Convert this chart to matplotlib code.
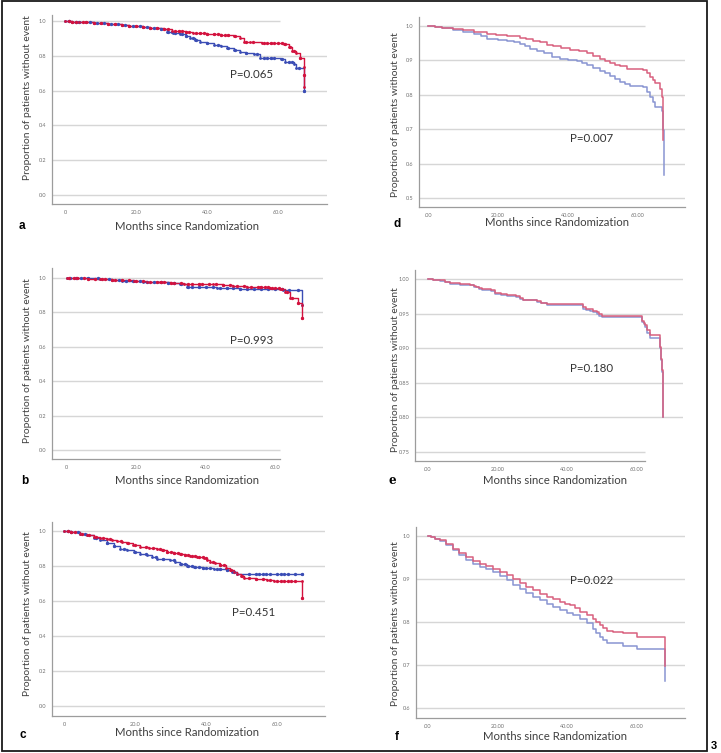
import matplotlib.pyplot as plt
import numpy as np

W, H = 721, 753

# ---- panel a ----
a_red_t = [0, 2, 4, 6, 8, 10, 12, 14, 16, 18, 20, 22, 24, 26, 28, 30, 32, 34, 36, 38, 40, 42, 44, 46,
           47.5, 49.4, 50.3, 52, 55.5, 58, 61.6, 63.0, 64.0, 65.0, 66.3, 67.2, 67.3, 67.4]
a_red_s = [1.0, 0.997, 0.994, 0.992, 0.99, 0.988, 0.985, 0.982, 0.978, 0.974, 0.97, 0.966, 0.963, 0.959,
           0.953, 0.945, 0.941, 0.937, 0.933, 0.931, 0.928, 0.926, 0.922, 0.918,
           0.914, 0.90, 0.88, 0.878, 0.874, 0.872, 0.87, 0.85, 0.83, 0.816, 0.79, 0.736, 0.69, 0.62]
a_blue_t = [0, 2, 4, 6, 8, 10, 12, 14, 16, 18, 20, 22, 24, 26, 27, 28.7, 30.5, 32.5, 34, 35.3, 36.7, 38.1,
            40, 41.9, 43.8, 45.6, 47.5, 49.4, 51, 53.2, 55, 58, 60.7, 62.1, 64.4, 65, 67.3]
a_blue_s = [1.0, 0.997, 0.994, 0.992, 0.99, 0.988, 0.985, 0.982, 0.978, 0.974, 0.97, 0.966, 0.963, 0.959,
            0.952, 0.937, 0.932, 0.927, 0.915, 0.904, 0.892, 0.88, 0.872, 0.864, 0.856, 0.847, 0.835,
            0.822, 0.818, 0.813, 0.79, 0.787, 0.784, 0.765, 0.755, 0.732, 0.60]
a_red_cens = [1, 2, 3, 5, 6, 8, 10, 12, 14, 16, 18, 20, 22, 24, 26, 28, 29, 31, 32, 33, 34, 35, 37, 38, 39, 40,
              42, 43, 44, 45, 46, 48, 51, 53, 56, 57, 58, 59, 60, 61, 62, 63.5, 64.5, 66.3, 67.3]
a_blue_cens = [1, 3, 4, 7, 9, 11, 13, 15, 17, 19, 21, 23, 25, 27, 29, 30, 31, 33, 34, 36, 37, 40, 43, 46, 48,
               51, 54, 56, 57, 58, 59, 61, 63, 64, 66, 67.3]

# ---- panel b ----
b_red_t = [0, 3, 6, 9.6, 13, 16, 19.2, 23, 26.9, 30, 33.6, 38, 42.2, 45, 48, 52, 55.7, 58.5, 61.4,
           62.9, 64.3, 66.7, 67.7, 67.7]
b_red_s = [1.0, 0.998, 0.996, 0.994, 0.99, 0.987, 0.984, 0.979, 0.975, 0.971, 0.967, 0.966, 0.965, 0.96,
           0.955, 0.95, 0.946, 0.941, 0.936, 0.917, 0.883, 0.854, 0.845, 0.767]
b_blue_t = [0, 3, 6, 9.6, 13, 16, 19.2, 22, 25.9, 29, 32.6, 34.5, 38, 43.2, 46, 49.9, 62.4, 67.7]
b_blue_s = [1.0, 0.999, 0.998, 0.996, 0.99, 0.985, 0.98, 0.978, 0.977, 0.971, 0.965, 0.948, 0.946, 0.944,
            0.941, 0.938, 0.932, 0.845]
b_red_cens = [0.5, 2, 3, 5, 6, 8, 10, 11, 13, 14, 16, 18, 20, 22, 24, 26, 27, 28, 30, 31, 33, 35, 36, 38, 39,
              41, 43, 45, 47, 49, 51, 53, 55, 56, 57, 58, 59, 60, 61, 62, 63.5, 65, 66.7, 67.7]
b_blue_cens = [1, 2.5, 4, 6, 9, 12, 15, 17, 19, 21, 23, 25, 27, 29, 31, 33, 35, 36, 38, 40, 42, 44, 46, 48,
               50, 52, 54, 56, 58, 60, 62, 64, 66.5]

# ---- panel c ----
c_red_t = [0, 2, 4.5, 6.5, 8.3, 10, 12, 13.5, 14.9, 16.3, 17.7, 19.5, 21.4, 24, 26.2, 27.5, 29, 31, 32.7,
           34, 35.6, 37.5, 39.3, 40.2, 41.2, 42.5, 44, 45.5, 46.8, 47.8, 48.7, 49.7, 50.6, 54, 57.2, 59.1,
           67.1, 67.1]
c_red_s = [1.0, 0.993, 0.985, 0.975, 0.966, 0.961, 0.956, 0.95, 0.943, 0.937, 0.931, 0.92, 0.909, 0.904,
           0.899, 0.89, 0.88, 0.873, 0.867, 0.861, 0.855, 0.851, 0.848, 0.836, 0.823, 0.814, 0.804, 0.79,
           0.775, 0.765, 0.756, 0.745, 0.733, 0.728, 0.722, 0.712, 0.712, 0.619]
c_blue_t = [0, 2, 4.5, 6.5, 8.3, 10, 12, 14, 15.8, 17.7, 19.6, 21.5, 23.3, 24.8, 26.2, 28, 29.9, 31.3,
            32.7, 34.6, 36.5, 39, 42.1, 44, 45.9, 47.3, 48.7, 67.1]
c_blue_s = [1.0, 0.993, 0.985, 0.974, 0.962, 0.947, 0.931, 0.915, 0.899, 0.89, 0.88, 0.87, 0.861, 0.851,
            0.842, 0.837, 0.832, 0.821, 0.81, 0.802, 0.794, 0.79, 0.785, 0.78, 0.775, 0.766, 0.756, 0.756]
c_red_cens = [1, 2, 3, 5, 7, 9, 11, 13, 16, 18, 20, 23, 25, 27, 28, 29, 30, 31, 32, 33, 34, 35, 36, 37, 38,
              39, 40, 42, 44, 45, 47, 50, 52, 54, 56, 58, 60, 61, 62, 63, 64, 65, 67.1]
c_blue_cens = [1, 2, 4, 6, 9, 12, 14, 17, 20, 23, 26, 28, 31, 33, 34, 35, 36, 37, 38, 39, 40, 41, 43, 44,
               46, 48, 52, 54, 55, 56, 57, 58, 60, 61, 62, 63, 65, 67.1]

# ---- panel d ----
d_red_t = [0, 2, 4, 7.2, 10, 13, 16.8, 19.5, 22.5, 26.3, 28, 30.1, 32, 34, 35.8, 38, 40.6, 43, 45.3, 47,
           49.1, 50.5, 52, 53.5, 54.9, 56.8, 61.5, 62.5, 63.4, 64.2, 64.9, 66.3, 66.8, 67.0, 67.2]
d_red_s = [1.0, 0.997, 0.994, 0.99, 0.987, 0.983, 0.978, 0.974, 0.97, 0.966, 0.962, 0.957, 0.952, 0.946,
           0.941, 0.935, 0.93, 0.926, 0.92, 0.914, 0.905, 0.899, 0.893, 0.888, 0.883, 0.874, 0.872, 0.862,
           0.852, 0.842, 0.833, 0.818, 0.794, 0.736, 0.669]
d_blue_t = [0, 2, 4, 7.2, 10, 13, 15, 16.8, 20, 22.5, 24.5, 26.3, 27.7, 29.1, 31, 33, 35.5, 37.7, 40, 42.5,
            44, 45.3, 47.2, 49.1, 50.5, 52, 53.5, 54.9, 56.3, 57.7, 61.5, 62.5, 63.4, 64.2, 64.9, 66.8,
            67.2, 67.4]
d_blue_s = [1.0, 0.996, 0.993, 0.987, 0.983, 0.978, 0.97, 0.963, 0.96, 0.957, 0.953, 0.949, 0.941, 0.934,
            0.927, 0.92, 0.911, 0.903, 0.9, 0.899, 0.892, 0.886, 0.878, 0.87, 0.862, 0.854, 0.846, 0.838,
            0.831, 0.826, 0.823, 0.808, 0.794, 0.779, 0.765, 0.754, 0.698, 0.566]

# ---- panel e ----
e_red_t = [0, 1.5, 3.4, 5, 6.2, 9.1, 12, 13.2, 13.9, 14.7, 15.4, 18.2, 19.2, 21, 22.6, 25.4, 26.5, 27.4,
           31.2, 32.5, 34.1, 44.6, 45.5, 46.5, 47.5, 48.5, 49.2, 49.9, 61.4, 62.0, 62.4, 62.9, 63.8, 66.7,
           67.0, 67.2, 67.5]
e_red_s = [1.0, 0.999, 0.998, 0.996, 0.994, 0.993, 0.992, 0.99, 0.989, 0.987, 0.985, 0.984, 0.98, 0.978,
           0.977, 0.975, 0.972, 0.97, 0.968, 0.966, 0.964, 0.959, 0.957, 0.956, 0.954, 0.952, 0.949, 0.947,
           0.94, 0.937, 0.934, 0.926, 0.919, 0.902, 0.885, 0.868, 0.80]
e_blue_t = [0, 1.5, 3.4, 5, 6.2, 9.1, 12, 13.2, 13.9, 14.7, 15.4, 18.2, 19.2, 21, 22.6, 25.4, 26.5, 27.4,
            31.2, 32.5, 34.1, 44.6, 45.5, 46.5, 47.5, 48.5, 49.2, 49.9, 61.4, 62.0, 62.4, 62.9, 63.8, 66.7,
            67.0, 67.2, 67.5]
e_blue_s = [1.0, 0.999, 0.997, 0.995, 0.993, 0.992, 0.991, 0.989, 0.988, 0.986, 0.984, 0.983, 0.979, 0.977,
            0.976, 0.974, 0.971, 0.969, 0.967, 0.965, 0.963, 0.957, 0.955, 0.954, 0.952, 0.95, 0.947, 0.945,
            0.938, 0.935, 0.931, 0.922, 0.915, 0.90, 0.883, 0.866, 0.80]

# ---- panel f ----
f_red_t = [0, 1, 2, 3.4, 5.2, 7.2, 9, 11, 13, 14.9, 16.8, 18.7, 20.6, 22.6, 24.5, 26.4, 28.3, 30.2, 32.1,
           34.1, 36, 37.9, 39.3, 40.8, 42.2, 43.7, 45.6, 47.5, 48.4, 49.4, 50.3, 51.3, 53, 56.1, 60.0, 68.1,
           68.1]
f_red_s = [1.0, 0.997, 0.994, 0.99, 0.981, 0.971, 0.961, 0.951, 0.943, 0.936, 0.93, 0.924, 0.917, 0.909,
           0.899, 0.89, 0.882, 0.874, 0.866, 0.859, 0.853, 0.847, 0.843, 0.839, 0.832, 0.824, 0.816, 0.808,
           0.80, 0.793, 0.786, 0.779, 0.778, 0.774, 0.766, 0.766, 0.697]
f_blue_t = [0, 1, 2, 3.4, 5.2, 7.2, 9, 11, 13, 14.9, 16.8, 18.7, 20.6, 22.6, 24.5, 26.4, 28.3, 30.2, 32.1,
            34.1, 36, 37.9, 39.8, 41.7, 43.6, 45.6, 47.5, 48.4, 49.4, 50.3, 51.3, 55.2, 56.1, 60.0, 68.1,
            68.1]
f_blue_s = [1.0, 0.997, 0.993, 0.988, 0.978, 0.967, 0.955, 0.944, 0.936, 0.928, 0.923, 0.917, 0.907, 0.897,
            0.887, 0.878, 0.868, 0.859, 0.851, 0.843, 0.835, 0.828, 0.822, 0.816, 0.806, 0.797, 0.785,
            0.775, 0.766, 0.759, 0.752, 0.751, 0.744, 0.737, 0.737, 0.662]

p_values = {"a": "P=0.065", "b": "P=0.993", "c": "P=0.451", "d": "P=0.007", "e": "P=0.180", "f": "P=0.022"}

left_yticks = [0.0, 0.2, 0.4, 0.6, 0.8, 1.0]
left_ylabels = ["0.0", "0.2", "0.4", "0.6", "0.8", "1.0"]
x_ticks = [0, 20, 40, 60]
left_xlabels = ["0", "20.0", "40.0", "60.0"]
right_xlabels = [".00", "20.00", "40.00", "60.00"]
d_yticks = [0.5, 0.6, 0.7, 0.8, 0.9, 1.0]
d_ylabels = ["0.5", "0.6", "0.7", "0.8", "0.9", "1.0"]
e_yticks = [0.75, 0.80, 0.85, 0.90, 0.95, 1.00]
e_ylabels = ["0.75", "0.80", "0.85", "0.90", "0.95", "1.00"]
f_yticks = [0.6, 0.7, 0.8, 0.9, 1.0]
f_ylabels = ["0.6", "0.7", "0.8", "0.9", "1.0"]

YLABEL = "Proportion of patients without event"
XLABEL = "Months since Randomization"

RED_DOT = "#d3123e"
BLUE_DOT = "#3b4db5"
RED_LINE = "#d9607e"
BLUE_LINE = "#8995d2"
GRID = "#d6d6d6"

plt.rcParams["font.family"] = ["Lato", "DejaVu Sans"]

fig = plt.figure(figsize=(W / 100, H / 100), dpi=100)


def add_ax(left, top, right, bottom):
    return fig.add_axes([left / W, 1 - bottom / H, (right - left) / W, (bottom - top) / H])


def step_at(t, s, x):
    t = np.asarray(t)
    s = np.asarray(s)
    i = np.searchsorted(t, x, side="right") - 1
    return s[np.clip(i, 0, len(s) - 1)]


def base_axes(ax, xlim, ylim, yticks, ylabels, xlabels, short=None, spine_end=None):
    ax.set_xlim(*xlim)
    ax.set_ylim(*ylim)
    for y in yticks:
        end = xlim[1]
        if short is not None and abs(y - short[0]) < 1e-9:
            end = short[1]
        ax.hlines(y, xlim[0], end, color=GRID, lw=1.0, zorder=0)
    ax.set_yticks(yticks)
    ax.set_yticklabels(ylabels)
    ax.set_xticks(x_ticks)
    ax.set_xticklabels(xlabels)
    ax.tick_params(length=0, labelsize=4, labelcolor="#707070", pad=4)
    for side in ["top", "right"]:
        ax.spines[side].set_visible(False)
    for side in ["left", "bottom"]:
        ax.spines[side].set_color("#9c9c9c")
        ax.spines[side].set_linewidth(0.9)
    if spine_end is not None:
        ax.spines["bottom"].set_bounds(xlim[0], spine_end)
    ax.patch.set_alpha(0)


def dotted_km(ax, t, s, cens, color):
    ax.step(t, s, where="post", color=color, lw=1.0, zorder=3)
    ax.plot(cens, step_at(t, s, np.asarray(cens)), "o", color=color, ms=2.4, mew=0, zorder=4)
    ax.plot(t, s, "o", color=color, ms=2.0, mew=0, zorder=4)


def thin_km(ax, t, s, color):
    ax.step(t, s, where="post", color=color, lw=1.1, zorder=3)


def labels(letter, ylab_xy, xlab_xy, letter_xy, p_xy, serif=False):
    fig.text(ylab_xy[0] / W, 1 - ylab_xy[1] / H, YLABEL, rotation=90, ha="center", va="center",
             fontsize=7.4, color="#404040")
    fig.text(xlab_xy[0] / W, 1 - xlab_xy[1] / H, XLABEL, ha="center", va="center",
             fontsize=8.2, color="#404040")
    fam = ["DejaVu Serif"] if serif else ["Liberation Sans"]
    fig.text(letter_xy[0] / W, 1 - letter_xy[1] / H, letter, ha="center", va="center",
             fontsize=8.5, fontweight="bold", family=fam, color="black")
    fig.text(p_xy[0] / W, 1 - p_xy[1] / H, p_values[letter], ha="center", va="center",
             fontsize=8.3, color="#333333")


# panel a
ax = add_ax(52, 15, 327, 204)
base_axes(ax, (-3.7, 73.8), (-0.052, 1.035), left_yticks, left_ylabels, left_xlabels, short=(1.0, 60.6))
dotted_km(ax, a_blue_t, a_blue_s, a_blue_cens, BLUE_DOT)
dotted_km(ax, a_red_t, a_red_s, a_red_cens, RED_DOT)
labels("a", (28, 98), (187, 226), (22, 226), (252, 74))

# panel b
ax = add_ax(52, 268, 323, 459)
base_axes(ax, (-4.3, 73.8), (-0.052, 1.058), left_yticks, left_ylabels, left_xlabels,
          short=(0.0, 61.4), spine_end=61.4)
dotted_km(ax, b_blue_t, b_blue_s, b_blue_cens, BLUE_DOT)
dotted_km(ax, b_red_t, b_red_s, b_red_cens, RED_DOT)
labels("b", (28, 361), (187, 481), (25, 481), (252, 340))

# panel c
ax = add_ax(52, 522, 325, 716)
base_axes(ax, (-3.4, 73.5), (-0.057, 1.051), left_yticks, left_ylabels, left_xlabels)
dotted_km(ax, c_blue_t, c_blue_s, c_blue_cens, BLUE_DOT)
dotted_km(ax, c_red_t, c_red_s, c_red_cens, RED_DOT)
labels("c", (28, 614), (187, 733), (23, 735), (254, 612))

# panel d
ax = add_ax(419, 17, 685, 207)
base_axes(ax, (-2.6, 73.4), (0.474, 1.026), d_yticks, d_ylabels, right_xlabels, short=(1.0, 62.0))
thin_km(ax, d_blue_t, d_blue_s, BLUE_LINE)
thin_km(ax, d_red_t, d_red_s, RED_LINE)
labels("d", (395, 115), (557, 222), (397, 224), (592, 138))

# panel e
ax = add_ax(415, 270, 683, 461)
base_axes(ax, (-3.7, 73.2), (0.737, 1.013), e_yticks, e_ylabels, right_xlabels,
          short=(0.75, 62.3), spine_end=62.3)
thin_km(ax, e_blue_t, e_blue_s, BLUE_LINE)
thin_km(ax, e_red_t, e_red_s, RED_LINE)
labels("e", (395, 370), (555, 480), (392, 481), (592, 368), serif=True)

# panel f
ax = add_ax(416, 527, 685, 718)
base_axes(ax, (-3.4, 73.8), (0.577, 1.021), f_yticks, f_ylabels, right_xlabels)
thin_km(ax, f_blue_t, f_blue_s, BLUE_LINE)
thin_km(ax, f_red_t, f_red_s, RED_LINE)
labels("f", (395, 624), (555, 737), (397, 737), (592, 580))

# outer frame and figure number
frame = plt.Rectangle((1.5 / W, 1 - 751 / H), 705.5 / W, 750 / H, transform=fig.transFigure,
                      fill=False, edgecolor="#1a1a1a", lw=1.3)
fig.patches.append(frame)
fig.text(714 / W, 1 - 746 / H, "3", ha="center", va="center", fontsize=8, fontweight="bold",
         family=["Liberation Sans"])

fig.savefig("out.png", dpi=100)
